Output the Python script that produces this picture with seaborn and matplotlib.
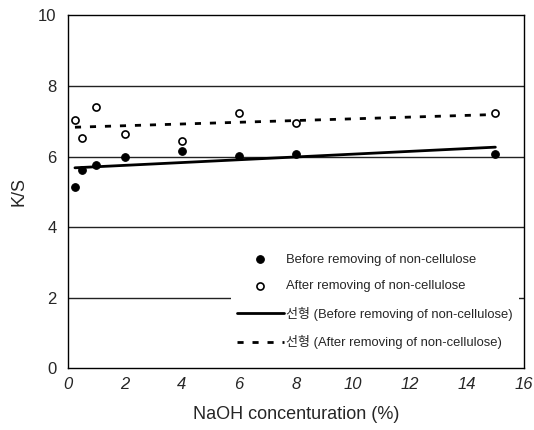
import numpy as np
import pandas as pd
import seaborn as sns
import matplotlib.pyplot as plt

# NaOH concentration (%) and K/S values
naoh = [0.25, 0.5, 1, 2, 4, 6, 8, 15]
ks_before = [5.14, 5.63, 5.76, 5.99, 6.16, 6.02, 6.07, 6.07]
ks_after = [7.04, 6.53, 7.40, 6.65, 6.44, 7.25, 6.95, 7.25]

lab_before = "Before removing of non-cellulose"
lab_after = "After removing of non-cellulose"
lab_fit_before = "선형 (Before removing of non-cellulose)"
lab_fit_after = "선형 (After removing of non-cellulose)"

x_ticks = [0, 2, 4, 6, 8, 10, 12, 14, 16]
y_ticks = [0, 2, 4, 6, 8, 10]

df = pd.DataFrame({"naoh": naoh, "before": ks_before, "after": ks_after})

sns.set_style("white")
plt.rcParams['font.family'] = ['Liberation Sans', 'Noto Sans CJK KR', 'DejaVu Sans']

fig, ax = plt.subplots(figsize=(5.34, 4.30), dpi=100)
fig.subplots_adjust(left=0.127, right=0.981, bottom=0.1435, top=0.964)

sns.scatterplot(data=df, x="naoh", y="before", ax=ax, color="black", s=30,
                marker="o", edgecolor="black", linewidth=0.8, label=lab_before, zorder=4)
sns.scatterplot(data=df, x="naoh", y="after", ax=ax, facecolor="white", s=26,
                marker="o", edgecolor="black", linewidth=1.2, label=lab_after, zorder=4)

# linear fits (regression computed by seaborn)
sns.regplot(data=df, x="naoh", y="before", ax=ax, scatter=False, ci=None,
            color="black", line_kws={"linewidth": 2, "zorder": 3})
fit_before = ax.get_lines()[-1]
fit_before.set_label(lab_fit_before)
sns.regplot(data=df, x="naoh", y="after", ax=ax, scatter=False, ci=None,
            color="black", line_kws={"linewidth": 2, "linestyle": (0, (2.2, 3.2)), "zorder": 3})
fit_after = ax.get_lines()[-1]
fit_after.set_label(lab_fit_after)

ax.set_xlim(0, 16)
ax.set_ylim(0, 10)
ax.set_xticks(x_ticks)
ax.set_yticks(y_ticks)
ax.set_xticklabels([str(t) for t in x_ticks], fontsize=12, style="italic")
ax.set_yticklabels([str(t) for t in y_ticks], fontsize=12)
ax.tick_params(axis="x", direction="in", length=4, width=1, color="black", pad=6)
ax.tick_params(axis="y", length=0, pad=8)

for yv in [2, 4, 6, 8]:
    ax.axhline(yv, color="#222222", linewidth=1, zorder=1)

for sp in ax.spines.values():
    sp.set_color("black")
    sp.set_linewidth(1)

ax.set_xlabel("NaOH concenturation (%)", fontsize=13, labelpad=10)
ax.set_ylabel("K/S", fontsize=13, labelpad=8)

handles, labels = ax.get_legend_handles_labels()
order = [lab_before, lab_after, lab_fit_before, lab_fit_after]
hmap = dict(zip(labels, handles))
leg = ax.legend([hmap[l] for l in order], order, loc="lower right",
                bbox_to_anchor=(0.995, 0.03), fontsize=9.4,
                frameon=True, facecolor="white", edgecolor="none", framealpha=1,
                handlelength=3.6, handletextpad=0.2, labelspacing=1.1,
                borderpad=0.45, borderaxespad=0.2, fancybox=False)
leg.set_zorder(5)

fig.savefig("out.png", dpi=100)
